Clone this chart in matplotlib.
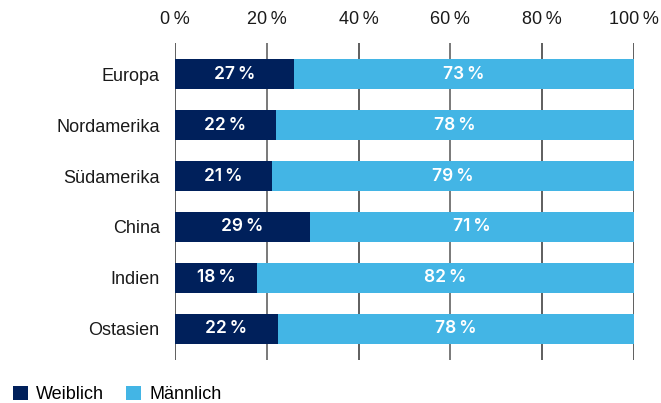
import matplotlib
matplotlib.use("Agg")
import matplotlib.pyplot as plt
from matplotlib.patches import Patch

plt.rcParams['font.family'] = ['Liberation Sans', 'DejaVu Sans']

regions = ["Europa", "Nordamerika", "Südamerika", "China", "Indien", "Ostasien"]
weiblich = [25.9, 22.0, 21.1, 29.4, 17.9, 22.4]
weiblich_labels = ["27\u2009%", "22\u2009%", "21\u2009%", "29\u2009%", "18\u2009%", "22\u2009%"]
maennlich_labels = ["73\u2009%", "78\u2009%", "79\u2009%", "71\u2009%", "82\u2009%", "78\u2009%"]
maennlich = [100 - w for w in weiblich]
xticks = [0, 20, 40, 60, 80, 100]
xtick_labels = ["0\u2009%", "20\u2009%", "40\u2009%", "60\u2009%", "80\u2009%", "100\u2009%"]

c_w = "#00205B"
c_m = "#43B5E5"
fs = 13

fig = plt.figure(figsize=(6.61, 4.03), dpi=100)
ax = fig.add_axes([175/661, 1 - 360/403, (634-175)/661, (360-43)/403])

y = list(range(len(regions)))
ax.barh(y, weiblich, height=0.59, color=c_w, zorder=3)
ax.barh(y, maennlich, left=weiblich, height=0.59, color=c_m, zorder=3)

for i in y:
    ax.text(weiblich[i] / 2, i, weiblich_labels[i], ha="center", va="center",
            color="white", fontsize=12.5, fontweight="semibold",
            family=["Inter", "DejaVu Sans"], zorder=4)
    ax.text(weiblich[i] + maennlich[i] / 2, i, maennlich_labels[i], ha="center", va="center",
            color="white", fontsize=12.5, fontweight="semibold",
            family=["Inter", "DejaVu Sans"], zorder=4)

ax.set_xlim(0, 100)
ax.set_ylim(len(regions) - 1 + 0.61, -0.61)
ax.set_xticks(xticks)
ax.set_xticklabels(xtick_labels, fontsize=fs, color="#1a1a1a")
ax.xaxis.tick_top()
ax.tick_params(axis="x", length=0, pad=11)
ax.set_yticks(y)
ax.set_yticklabels(regions, fontsize=fs, color="#1a1a1a")
ax.tick_params(axis="y", length=0, pad=11)
for s in ax.spines.values():
    s.set_visible(False)
for xt in xticks:
    ax.axvline(xt, color="#333333" if xt in (0, 40, 80, 100) else "#555555", lw=1.1, zorder=1)

handles = [Patch(facecolor=c_w, label="Weiblich"), Patch(facecolor=c_m, label="Männlich")]
fig.legend(handles=handles, loc="lower left", bbox_to_anchor=(0.003, -0.028), ncol=2,
           frameon=False, fontsize=fs, handlelength=0.85, handleheight=0.85,
           handletextpad=0.45, columnspacing=1.2, borderaxespad=0.2)

fig.savefig("out.png", dpi=100)
